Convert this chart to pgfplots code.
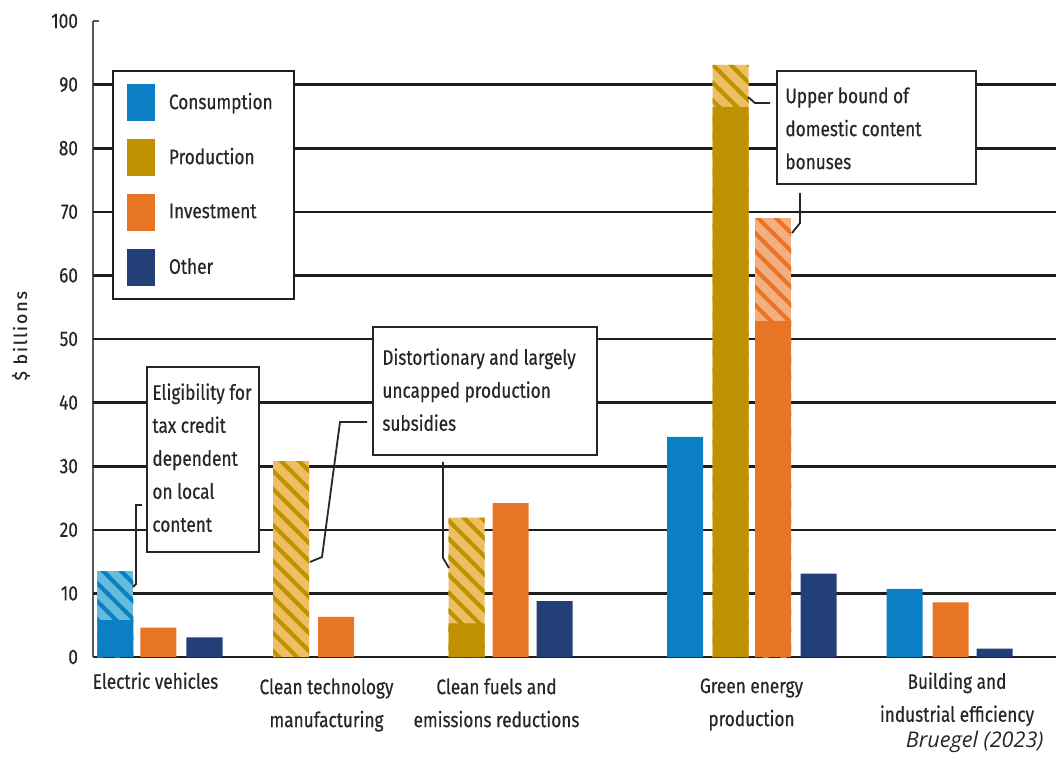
\documentclass[border=0pt]{standalone}
\usepackage{fontspec}
\setmainfont{Fira Sans}[FakeStretch=0.82, FakeBold=0.4]
\newfontfamily\ylabfont{Fira Sans}[FakeBold=0.4, LetterSpace=10]
\newfontfamily\srcfont{Open Sans}
\usepackage{pgfplots}
\pgfplotsset{compat=1.18}
\usetikzlibrary{patterns.meta}

\definecolor{cons}{HTML}{0B7FC4}
\definecolor{consL}{HTML}{62BCDA}
\definecolor{prod}{HTML}{BF9000}
\definecolor{prodL}{HTML}{ECBF62}
\definecolor{inv}{HTML}{E87524}
\definecolor{invL}{HTML}{F3AF80}
\definecolor{oth}{HTML}{223F78}
\definecolor{ink}{HTML}{262626}
\definecolor{gridc}{HTML}{1E1E1E}

% hatch for the upper-bound parts of the bars
\tikzdeclarepattern{
  name=hatchnw,
  type=uncolored,
  bounding box={(-1pt,-1pt) and (10pt,10pt)},
  tile size={(9pt,9pt)},
  code={\draw[line width=2pt] (-1pt,10pt) -- (10pt,-1pt);}
}

% x runs in picture pixels, y in $ billions; \py turns a pixel row into y
\newcommand{\py}[1]{{(657-#1)/6.36}}

\begin{document}
\begin{tikzpicture}
\begin{axis}[
  scale only axis,
  width=481.5pt, height=318pt,
  xmin=93, xmax=1056, ymin=0, ymax=100,
  clip=false,
  axis x line=bottom, axis y line=left,
  axis line style={-},
  x axis line style={gridc, line width=1.3pt},
  y axis line style={black!65, line width=0.8pt},
  xtick=\empty,
  ytick={0,10,...,100},
  ytick align=inside,
  major tick length=3pt,
  ytick style={black!65, line width=0.8pt},
  extra y ticks={10,20,...,90},
  extra y tick labels={},
  extra y tick style={grid=major, major tick length=0pt},
  major grid style={gridc, line width=1.3pt},
  yticklabel style={font=\fontsize{10.5}{12}\selectfont, text=ink, xshift=-4pt},
  /pgf/number format/assume math mode=true,
  ylabel={\$ billions},
  every axis y label/.style={at={(axis description cs:-0.0748,0.505)}, rotate=90, anchor=center,
    font=\ylabfont\fontsize{9}{11}\selectfont, text=ink},
  ybar, bar width=36, bar shift=0pt,
  legend image code/.code={\fill[#1] (0pt,-9.25pt) rectangle (14pt,9.25pt);},
  legend cell align=left,
  legend style={at={(axis description cs:0.0197,0.923)}, anchor=north west,
    draw=gridc, line width=1pt, fill=white,
    font=\fontsize{10.5}{12}\selectfont, text=ink,
    inner xsep=7pt, inner ysep=6.5pt, row sep=9pt,
    nodes={inner xsep=3.5pt, inner ysep=0pt},
    /tikz/every odd column/.append style={column sep=3.5pt}},
]

% upper bounds (hatched), drawn first so the solid parts sit on them
\addplot[forget plot, draw=none, fill=consL, postaction={pattern=hatchnw, pattern color=cons}]
  coordinates {(115.5,13.5)};
\addplot[forget plot, draw=none, fill=prodL, postaction={pattern=hatchnw, pattern color=prod}]
  coordinates {(291,30.8) (466.5,21.9) (730.5,93.1)};
\addplot[forget plot, draw=none, fill=invL, postaction={pattern=hatchnw, pattern color=inv}]
  coordinates {(773,69.0)};

% solid parts
\addplot[draw=none, fill=cons] coordinates {(115.5,5.8) (685,34.6) (904.5,10.7)};
\addlegendentry{Consumption}
\addplot[draw=none, fill=prod] coordinates {(466.5,5.3) (730.5,86.5)};
\addlegendentry{Production}
\addplot[draw=none, fill=inv] coordinates {(158.5,4.6) (336,6.3) (510.5,24.2) (773,52.8) (950.5,8.6)};
\addlegendentry{Investment}
\addplot[draw=none, fill=oth] coordinates {(204.5,3.1) (554.5,8.8) (818.5,13.1) (994.5,1.3)};
\addlegendentry{Other}

% callout boxes
\tikzset{callout/.style={ink, line width=1pt, fill=white},
         leader/.style={ink, line width=0.9pt},
         note/.style={anchor=north west, align=left, inner sep=0pt, text=ink,
           font=\fontsize{10.5}{16.5}\selectfont}}

\draw[leader] (axis cs:133,\py{587}) -- (axis cs:136,\py{584}) -- (axis cs:136,\py{505}) -- (axis cs:142,\py{505});
\draw[callout] (axis cs:147,\py{367}) rectangle (axis cs:259,\py{552});
\node[note] at (axis cs:152,\py{383}) {Eligibility for\\tax credit\\dependent\\on local\\content};

\draw[leader] (axis cs:367,\py{422}) -- (axis cs:340,\py{422}) -- (axis cs:322,\py{557}) -- (axis cs:310,\py{562});
\draw[leader] (axis cs:443,\py{462}) -- (axis cs:443,\py{558}) -- (axis cs:449,\py{568});
\draw[callout] (axis cs:373,\py{327}) rectangle (axis cs:597,\py{455});
\node[note] at (axis cs:382,\py{348}) {Distortionary and largely\\uncapped production\\subsidies};

\draw[leader] (axis cs:770,\py{103}) -- (axis cs:755,\py{103}) -- (axis cs:748,\py{97});
\draw[leader] (axis cs:800,\py{193}) -- (axis cs:800,\py{223}) -- (axis cs:792,\py{233});
\draw[callout] (axis cs:777,\py{71}) rectangle (axis cs:976,\py{184});
\node[note] at (axis cs:785,\py{87}) {Upper bound of\\domestic content\\bonuses};

% category names
\tikzset{cat/.style={anchor=north, align=center, inner sep=0pt, text=ink,
  font=\fontsize{10.5}{16.5}\selectfont}}
\node[cat] at (axis cs:155.5,\py{672}) {Electric vehicles};
\node[cat] at (axis cs:326.5,\py{678}) {Clean technology\\manufacturing};
\node[cat] at (axis cs:496.5,\py{678}) {Clean fuels and\\emissions reductions};
\node[cat] at (axis cs:751.5,\py{678}) {Green energy\\production};
\node[cat] at (axis cs:957,\py{672}) {Building and\\industrial efficiency};

\node[anchor=east, inner sep=0pt, text=ink, font=\srcfont\itshape\fontsize{10.8}{12}\selectfont]
  at (axis cs:1044,\py{742}) {Bruegel (2023)};

\coordinate (bbtl) at (axis cs:0,\py{0});
\coordinate (bbbr) at (axis cs:1056,\py{756});
\end{axis}
\pgfresetboundingbox
\path[use as bounding box] (bbtl) rectangle (bbbr);
\end{tikzpicture}
\end{document}
